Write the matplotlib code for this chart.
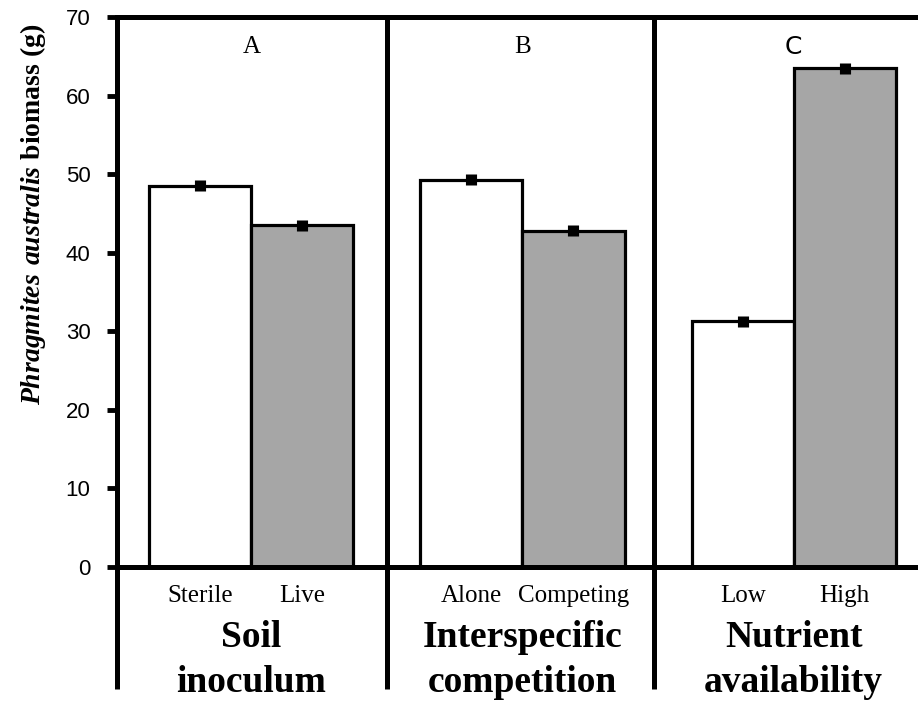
import matplotlib
matplotlib.use("Agg")
import matplotlib.pyplot as plt
import numpy as np

# Datos
groups = ["Soil\ninoculum", "Interspecific\ncompetition", "Nutrient\navailability"]
panel_letters = ["A", "B", "C"]
level_labels = ["Sterile", "Live", "Alone", "Competing", "Low", "High"]
biomass = [48.5, 43.5, 49.3, 42.8, 31.3, 63.5]
errors = [0.7, 0.7, 0.7, 0.7, 0.7, 0.7]
bar_colors = ["white", "#a6a6a6"] * 3

plt.rcParams["mathtext.fontset"] = "custom"
plt.rcParams["mathtext.bfit"] = "Liberation Serif:italic:bold"
plt.rcParams["mathtext.rm"] = "Liberation Serif"

fig = plt.figure(figsize=(9.18, 7.04), dpi=100)
ax = fig.add_axes([117 / 918, 1 - 567 / 704, 801 / 918, 550 / 704])

width = 0.38
centers = []
for g in range(3):
    c = 0.5 + g * 1.01
    centers += [c - width / 2, c + width / 2]
centers = np.array(centers)

ax.bar(centers, biomass, width=width, color=bar_colors, edgecolor="black", linewidth=2.3, zorder=2)
ax.errorbar(centers, biomass, yerr=errors, fmt="none", ecolor="black", elinewidth=8, capsize=0, zorder=3)

ax.set_xlim(0, 2.983)
ax.set_ylim(0, 70)
ax.set_yticks(range(0, 71, 10))
ax.tick_params(axis="y", direction="out", length=7, width=3.5, labelsize=16, pad=12)
for lab in ax.get_yticklabels():
    lab.set_fontfamily("Liberation Sans")
ax.set_xticks([])

for side in ["left", "top", "bottom"]:
    ax.spines[side].set_linewidth(3.6)
ax.spines["right"].set_visible(False)

# divisores verticales que bajan por debajo del eje
trans = ax.get_xaxis_transform()
for x in [0, 1.006, 2.0]:
    ax.plot([x, x], [-0.222, 1], transform=trans, color="black", lw=3.6, clip_on=False, zorder=4,
            solid_capstyle="butt")

# letras de panel
letter_fonts = ["Liberation Serif", "Liberation Serif", "DejaVu Sans"]
for g in range(3):
    c = 0.5 + g * 1.01
    ax.text(c, 0.945, panel_letters[g], transform=trans, ha="center", va="center",
            fontsize=18, fontfamily=letter_fonts[g])

# etiquetas de niveles y grupos
for x, lab in zip(centers, level_labels):
    ax.text(x, -0.053, lab, transform=trans, ha="center", va="center",
            fontsize=18, fontfamily="Liberation Serif")
for g in range(3):
    c = 0.5 + g * 1.01
    ax.text(c, -0.169, groups[g], transform=trans, ha="center", va="center",
            fontsize=27, fontweight="bold", fontfamily="Liberation Serif", linespacing=1.35)

ax.set_ylabel(r"$\mathbfit{Phragmites\ australis}$ biomass (g)", fontsize=20,
              fontweight="bold", fontfamily="Liberation Serif")
ax.yaxis.set_label_coords(-0.086, 0.642)

fig.savefig("out.png", dpi=100)
